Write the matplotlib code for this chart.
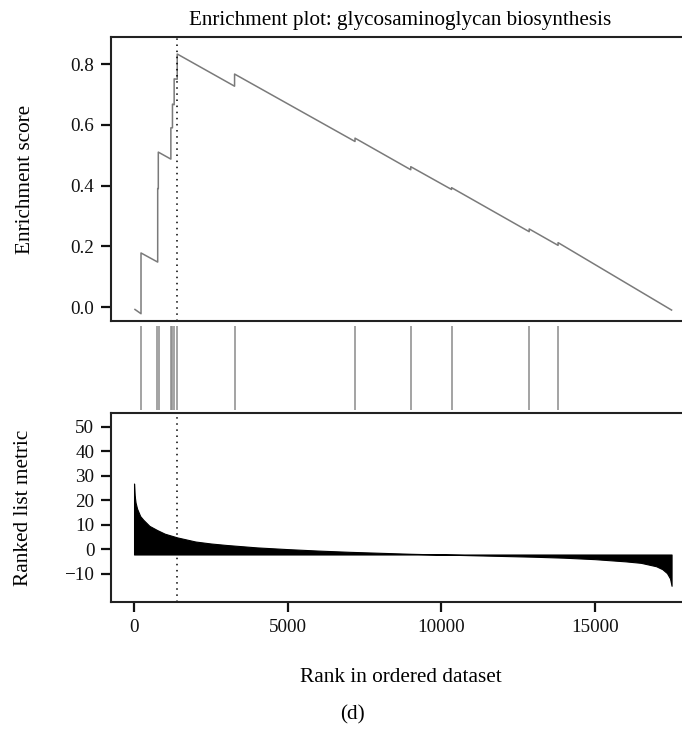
import matplotlib
matplotlib.use("Agg")
import matplotlib.pyplot as plt

plt.rcParams['font.family'] = ['Liberation Serif', 'DejaVu Serif']

# running enrichment score (rank, ES) - steps at each hit
es_rank = [30, 227, 227, 770, 770, 790, 790, 1199, 1199, 1251, 1251, 1306, 1306,
           1406, 1406, 3273, 3273, 7194, 7194, 9009, 9009, 10337, 10337,
           12865, 12865, 13805, 13805, 17500]
es_val = [-0.008, -0.022, 0.178, 0.148, 0.39, 0.39, 0.51, 0.487, 0.59, 0.59, 0.668,
          0.666, 0.751, 0.75, 0.833, 0.727, 0.767, 0.545, 0.556, 0.452, 0.462,
          0.387, 0.393, 0.248, 0.257, 0.203, 0.212, -0.01]

# gene set hits
hits = [227, 760, 800, 1199, 1251, 1306, 1406, 3273, 7194, 9009, 10337, 12865, 13805]

# ranked list metric
rank_pts = [0, 20, 50, 100, 200, 300, 500, 750, 1000, 1400, 2000, 2500, 3000,
            3500, 4000, 5000, 6000, 7000, 8000, 9000, 10000, 11000, 12000,
            13000, 14000, 15000, 16000, 16500, 17000, 17200, 17350, 17450, 17500]
metric = [26.8, 22, 19, 16.5, 13.5, 12, 9.5, 7.8, 6.3, 4.8, 3.1, 2.3, 1.7,
          1.2, 0.7, 0.0, -0.6, -1.1, -1.5, -1.9, -2.2, -2.5, -2.8,
          -3.1, -3.5, -4.1, -5.0, -5.6, -7.0, -8.2, -9.8, -12.0, -15.0]
baseline = -2.2
peak_rank = 1400

fig = plt.figure(figsize=(6.82, 7.29), dpi=100)
L, W = 111 / 682, 579 / 682
ax1 = fig.add_axes([L, 1 - 321 / 729, W, 284 / 729])
ax2 = fig.add_axes([L, 1 - 410 / 729, W, 84 / 729])
ax3 = fig.add_axes([L, 1 - 602 / 729, W, 189 / 729])

xlim = (-750, 18100)
tick_kw = dict(direction='out', length=7, width=1.6, labelsize=13.8, pad=5, colors='#111111')

# enrichment score panel
ax1.plot(es_rank, es_val, color='#7a7a7a', lw=1.1)
ax1.axvline(peak_rank, color='black', ls=(0, (1, 3)), lw=1.1)
ax1.set_xlim(*xlim)
ax1.set_ylim(-0.046, 0.889)
ax1.set_yticks([0.0, 0.2, 0.4, 0.6, 0.8])
ax1.set_yticklabels(['0.0', '0.2', '0.4', '0.6', '0.8'])
ax1.set_xticks([])
ax1.tick_params(axis='y', **tick_kw)
ax1.set_ylabel('Enrichment score', fontsize=15.3)
ax1.yaxis.set_label_coords(-0.131, 0.5)
ax1.set_title('Enrichment plot: glycosaminoglycan biosynthesis', fontsize=15.2, pad=9)

# hits panel
ax2.vlines(hits, 0, 1, color='#8a8a8a', lw=1.1)
ax2.set_xlim(*xlim)
ax2.set_ylim(0, 1)
ax2.axis('off')

# ranked list metric panel
ax3.fill_between(rank_pts, metric, baseline, color='black', lw=0.8)
ax3.axvline(peak_rank, color='black', ls=(0, (1, 3)), lw=1.1)
ax3.set_xlim(*xlim)
ax3.set_ylim(-21.6, 55.6)
ax3.set_yticks([-10, 0, 10, 20, 30, 40, 50])
ax3.set_xticks([0, 5000, 10000, 15000])
ax3.tick_params(axis='both', **tick_kw)
ax3.set_ylabel('Ranked list metric', fontsize=15.3)
ax3.yaxis.set_label_coords(-0.135, 0.5)
ax3.set_xlabel('Rank in ordered dataset', fontsize=15.3, labelpad=23)

for ax in (ax1, ax3):
    for s in ax.spines.values():
        s.set_linewidth(1.5)
        s.set_color('#222222')

fig.text(352 / 682, 1 - 715 / 729, '(d)', ha='center', va='center', fontsize=15.3)

fig.savefig('out.png', dpi=100)
